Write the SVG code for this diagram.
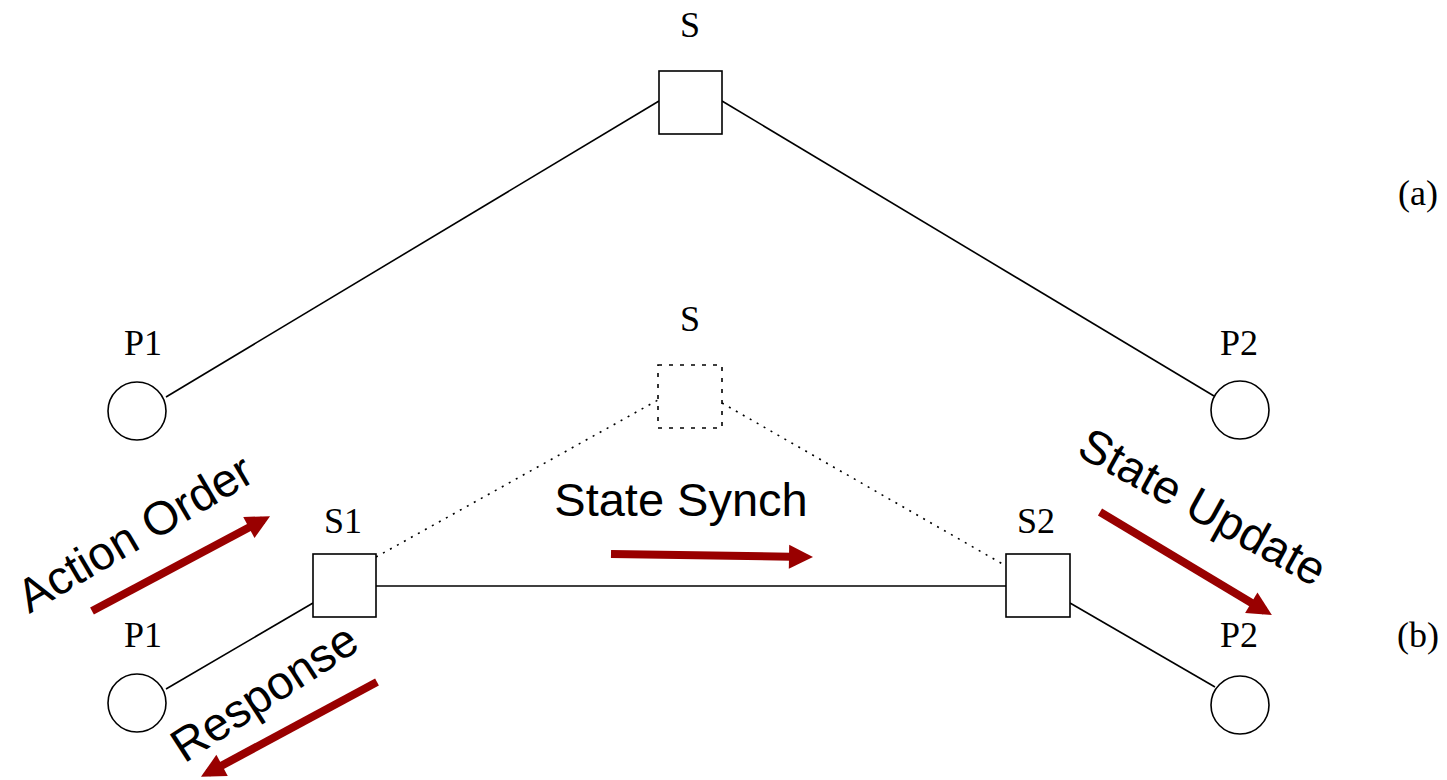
<svg xmlns="http://www.w3.org/2000/svg" width="1447" height="780" viewBox="0 0 1447 780">
  <style>
    .box { fill: #ffffff; stroke: #000000; stroke-width: 1.6; }
    .ghost { fill: none; stroke: #000000; stroke-width: 1.6; stroke-dasharray: 4 7; }
    .node { fill: #ffffff; stroke: #000000; stroke-width: 1.6; }
    .link { stroke: #000000; stroke-width: 1.6; fill: none; }
    .dot { stroke: #000000; stroke-width: 1.6; fill: none; stroke-dasharray: 2 6; }
    .lbl { font-family: "Liberation Serif", "Times New Roman", serif; font-size: 36px; fill: #000000; text-anchor: middle; }
    .msg { font-family: "Liberation Sans", Arial, sans-serif; font-size: 47px; fill: #000000; text-anchor: middle; }
    .flow { stroke: #990000; stroke-width: 8; fill: none; marker-end: url(#head); }
  </style>
  <defs>
    <marker id="head" markerUnits="strokeWidth" markerWidth="3" markerHeight="3" refX="2" refY="1.5" orient="auto" overflow="visible">
      <path d="M0,0 L3,1.5 L0,3 z" fill="#990000"/>
    </marker>
  </defs>
  <rect width="1447" height="780" fill="#ffffff"/>

  <!-- connectors -->
  <g id="connectors">
    <line class="link" x1="166" y1="397" x2="659" y2="101"/>
    <line class="link" x1="722" y1="101" x2="1214" y2="396"/>
    <line class="dot" x1="376" y1="557" x2="658" y2="400"/>
    <line class="dot" x1="722" y1="403" x2="1006" y2="566"/>
    <line class="link" x1="376" y1="586" x2="1006" y2="586"/>
    <line class="link" x1="166" y1="689" x2="313" y2="603"/>
    <line class="link" x1="1070" y1="603" x2="1215" y2="687"/>
  </g>

  <!-- (a) central server topology -->
  <g id="server-a">
    <rect class="box" x="659" y="71" width="63" height="63"/>
    <text class="lbl" x="690" y="37">S</text>
  </g>
  <g id="player1-a">
    <circle class="node" cx="137" cy="411" r="29"/>
    <text class="lbl" x="143" y="355">P1</text>
  </g>
  <g id="player2-a">
    <circle class="node" cx="1240" cy="410" r="29"/>
    <text class="lbl" x="1239" y="355">P2</text>
  </g>
  <text class="lbl" x="1418" y="205">(a)</text>

  <!-- (b) distributed servers -->
  <g id="server-b">
    <rect class="ghost" x="658" y="365" width="64" height="63"/>
    <text class="lbl" x="690" y="331">S</text>
  </g>
  <g id="server-s1">
    <rect class="box" x="313" y="554" width="63" height="63"/>
    <text class="lbl" x="343" y="533">S1</text>
  </g>
  <g id="server-s2">
    <rect class="box" x="1006" y="554" width="64" height="63"/>
    <text class="lbl" x="1036" y="533">S2</text>
  </g>
  <g id="player1-b">
    <circle class="node" cx="137" cy="703" r="29"/>
    <text class="lbl" x="143" y="647">P1</text>
  </g>
  <g id="player2-b">
    <circle class="node" cx="1240" cy="705" r="29"/>
    <text class="lbl" x="1239" y="647">P2</text>
  </g>
  <text class="lbl" x="1418" y="647">(b)</text>

  <!-- message flows -->
  <g id="flow-action">
    <line class="flow" x1="92" y1="611" x2="263" y2="520"/>
    <text class="msg" transform="translate(143 547) rotate(-30.5)">Action Order</text>
  </g>
  <g id="flow-synch">
    <line class="flow" x1="611" y1="554" x2="805" y2="557"/>
    <text class="msg" x="681" y="516">State Synch</text>
  </g>
  <g id="flow-update">
    <line class="flow" x1="1100" y1="512" x2="1265" y2="611"/>
    <text class="msg" transform="translate(1195 521) rotate(29)">State Update</text>
  </g>
  <g id="flow-response">
    <line class="flow" x1="377" y1="682" x2="208" y2="773"/>
    <text class="msg" transform="translate(273 706) rotate(-33)">Response</text>
  </g>
</svg>
